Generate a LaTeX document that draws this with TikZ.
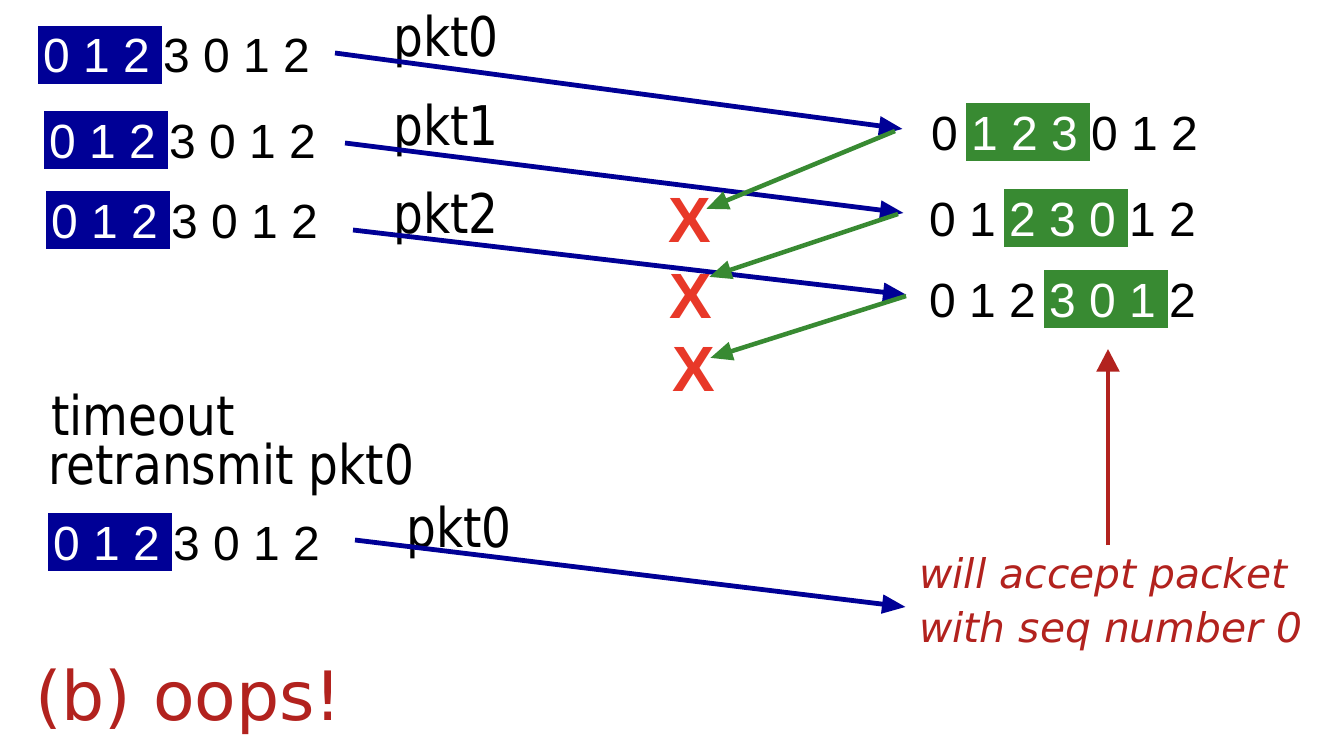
\documentclass[tikz,border=0pt]{standalone}
\usepackage{fontspec}
\setmainfont{Liberation Sans}
\newfontfamily\dejavu{DejaVu Sans}
\newfontfamily\tahoma[FakeStretch=0.86]{DejaVu Sans}
\usetikzlibrary{arrows.meta}
\definecolor{navy}{RGB}{0,0,150}
\definecolor{grn}{RGB}{56,138,50}
\definecolor{xred}{RGB}{232,56,40}
\definecolor{dred}{RGB}{178,34,30}
\tikzset{
  dig/.style={anchor=base, inner sep=0pt, font=\fontsize{36}{40}\selectfont},
  seqbox/.style={minimum width=93pt, minimum height=43.5pt, inner sep=0pt, draw=none},
  lbl/.style={anchor=base west, inner sep=0pt, font=\tahoma\fontsize{41}{46}\selectfont},
  xmark/.style={inner sep=0pt, text=xred, font=\fontsize{48}{50}\selectfont\bfseries},
  pktarrow/.style={navy, line width=3.6pt, -{Triangle[length=18pt,width=13.5pt]}},
  ackarrow/.style={grn, line width=3.4pt, -{Triangle[length=17pt,width=13.5pt]}},
  notearrow/.style={dred, line width=2.5pt, -{Triangle[length=17pt,width=17pt]}},
  note/.style={anchor=base west, inner sep=0pt, text=dred, font=\dejavu\itshape\fontsize{30.6}{34}\selectfont},
  title/.style={anchor=base west, inner sep=0pt, text=dred, font=\dejavu\fontsize{51}{56}\selectfont},
}
\newcommand{\seqrow}[5]{%
  \node[seqbox, fill=#5] (#1box) at ({#2+40*#4+43},{#3-18}) {};
  \foreach \d [count=\i from 0] in {0,1,2,3,0,1,2} {
    \pgfmathtruncatemacro\inbox{(\i>=#4)&&(\i<#4+3)}
    \ifnum\inbox=1
      \node[dig, text=white] (#1d\i) at ({#2+40*\i},#3) {\d};
    \else
      \node[dig] (#1d\i) at ({#2+40*\i},#3) {\d};
    \fi
  }
}
\begin{document}
\begin{tikzpicture}[x=0.75pt, y=-0.75pt]
\fill[white] (0,0) rectangle (1326,742);
\useasboundingbox (0,0) rectangle (1326,742);

% sender rows
\seqrow{sa}{57}{73}{0}{navy}
\seqrow{sb}{63}{158}{0}{navy}
\seqrow{sc}{65}{238}{0}{navy}
\seqrow{sd}{67}{560}{0}{navy}
% receiver rows
\seqrow{ra}{945}{150}{1}{grn}
\seqrow{rb}{943}{236}{2}{grn}
\seqrow{rc}{943}{317}{3}{grn}

% labels
\node[lbl] (pk0) at (393,57) {pkt0};
\node[lbl] (pk1) at (393,145) {pkt1};
\node[lbl] (pk2) at (393,233) {pkt2};
\node[lbl] (timeout) at (51,435) {timeout};
\node[lbl] (retx) at (48,484) {retransmit pkt0};
\node[lbl] (pk0b) at (406,547) {pkt0};

% lost marks
\node[xmark] (xa) at (690,220) {X};
\node[xmark] (xb) at (691,296) {X};
\node[xmark] (xc) at (694,369) {X};

% connector end points
\coordinate (b1s) at (335,53);  \coordinate (b1e) at (903,129);
\coordinate (b2s) at (345,143); \coordinate (b2e) at (904,213);
\coordinate (b3s) at (353,230); \coordinate (b3e) at (907,295);
\coordinate (b4s) at (355,540); \coordinate (b4e) at (906,607);
\coordinate (g1s) at (895,131); \coordinate (g1e) at (706,209);
\coordinate (g2s) at (898,214); \coordinate (g2e) at (709,277);
\coordinate (g3s) at (906,296); \coordinate (g3e) at (710,358);
\coordinate (ns) at (1108,545); \coordinate (ne) at (1108,349);

\draw[pktarrow] (b1s) -- (b1e);
\draw[pktarrow] (b2s) -- (b2e);
\draw[pktarrow] (b3s) -- (b3e);
\draw[pktarrow] (b4s) -- (b4e);
\draw[ackarrow] (g1s) -- (g1e);
\draw[ackarrow] (g2s) -- (g2e);
\draw[ackarrow] (g3s) -- (g3e);
\draw[notearrow] (ns) -- (ne);

% notes
\node[note] (n1) at (919,588) {will accept packet};
\node[note] (n2) at (919,642) {with seq number 0};
\node[title] (oops) at (35,720) {(b) oops!};
\end{tikzpicture}
\end{document}
